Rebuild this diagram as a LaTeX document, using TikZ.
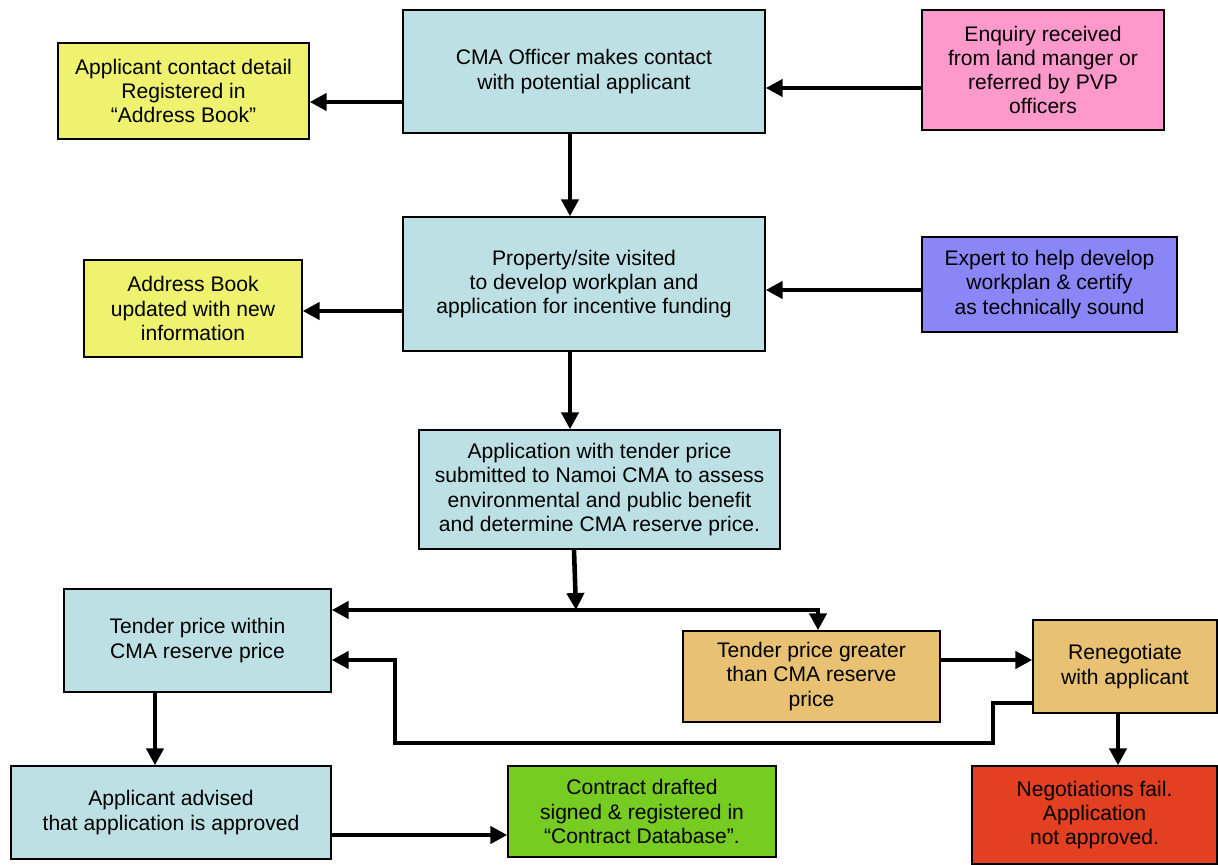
\documentclass[tikz,border=0pt]{standalone}
\usepackage{fontspec}
\setmainfont{Liberation Sans}
\usetikzlibrary{arrows.meta}
\definecolor{cmablue}{RGB}{188,224,228}
\definecolor{bookyellow}{RGB}{238,242,110}
\definecolor{enqpink}{RGB}{255,153,204}
\definecolor{exppurple}{RGB}{138,134,247}
\definecolor{pricetan}{RGB}{232,193,115}
\definecolor{dealgreen}{RGB}{119,204,34}
\definecolor{failred}{RGB}{227,64,34}
\tikzset{
  flowbox/.style={draw, line width=0.8pt, align=center, inner sep=2pt,
    font=\fontsize{12}{13.8}\selectfont},
  flow/.style={line width=2.6pt, -{Triangle[length=0.34cm,width=0.34cm]}},
}
% box from corner (x1,y1) to corner (x2,y2), in pixels of the sheet
\newcommand{\flowbox}[7]{%
  \node[flowbox, fill=#6, minimum width={(#4-#2)*0.02cm},
    minimum height={(#5-#3)*0.02cm}] (#1) at ({(#2+#4)/2},{(#3+#5)/2}) {#7};%
}

\begin{document}
\begin{tikzpicture}[x=0.02cm,y=-0.02cm]
  \useasboundingbox (0,0) rectangle (1218,865);
  %
  \flowbox{contact}{403}{10}{765}{133}{cmablue}{CMA Officer makes contact\\with potential applicant}
  \flowbox{addrone}{58}{43}{309}{139}{bookyellow}{Applicant contact detail\\Registered in\\“Address Book”}
  \flowbox{enquiry}{922}{10}{1164}{130}{enqpink}{Enquiry received\\from land manger or\\referred by PVP\\officers}
  \flowbox{visit}{403}{217}{765}{351}{cmablue}{Property/site visited\\to develop workplan and\\application for incentive funding}
  \flowbox{addrtwo}{84}{260}{302}{357}{bookyellow}{Address Book\\updated with new\\information}
  \flowbox{expert}{922}{237}{1177}{332}{exppurple}{Expert to help develop\\workplan \& certify\\as technically sound}
  \flowbox{assess}{419}{430}{780}{549}{cmablue}{Application with tender price\\submitted to Namoi CMA to assess\\environmental and public benefit\\and determine CMA reserve price.}
  \flowbox{within}{64}{589}{331}{692}{cmablue}{Tender price within\\CMA reserve price}
  \flowbox{greater}{683}{631}{940}{722}{pricetan}{Tender price greater\\than CMA reserve\\price}
  \flowbox{renego}{1033}{620}{1217}{713}{pricetan}{Renegotiate\\with applicant}
  \flowbox{advised}{11}{766}{331}{859}{cmablue}{Applicant advised\\that application is approved}
  \flowbox{contract}{508}{766}{776}{857}{dealgreen}{Contract drafted\\signed \& registered in\\“Contract Database”.}
  \flowbox{fail}{972}{766}{1217}{864}{failred}{Negotiations fail.\\Application\\not approved.}
  %
  \coordinate (split) at (576,610);
  \coordinate (drop) at (818,610);
  \coordinate (loopa) at (993,703);
  \coordinate (loopb) at (993,743);
  \coordinate (loopc) at (395,743);
  \coordinate (loopd) at (395,660);
  %
  \draw[flow] (contact.west |- 0,102) -- (addrone.east |- 0,102);
  \draw[flow] (enquiry.west |- 0,88) -- (contact.east |- 0,88);
  \draw[flow] (contact.south -| 570,0) -- (visit.north -| 570,0);
  \draw[flow] (visit.west |- 0,311) -- (addrtwo.east |- 0,311);
  \draw[flow] (expert.west |- 0,290) -- (visit.east |- 0,290);
  \draw[flow] (visit.south -| 570,0) -- (assess.north -| 570,0);
  \draw[flow] (assess.south -| 574,0) -- (split);
  \draw[flow] (split) -- (within.east |- split);
  \draw[flow] (split) -- (drop) -- (greater.north -| drop);
  \draw[flow] (greater.east |- 0,660) -- (renego.west |- 0,660);
  \draw[flow] (renego.west |- loopa) -- (loopa) -- (loopb) -- (loopc) -- (loopd) -- (within.east |- loopd);
  \draw[flow] (renego.south -| 1118,0) -- (fail.north -| 1118,0);
  \draw[flow] (within.south -| 155,0) -- (advised.north -| 155,0);
  \draw[flow] (advised.east |- 0,835) -- (contract.west |- 0,835);
\end{tikzpicture}
\end{document}
